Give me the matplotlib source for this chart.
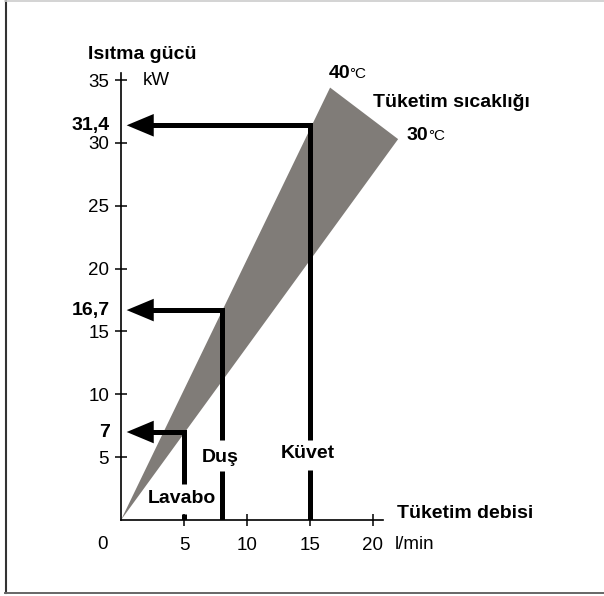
import matplotlib
matplotlib.use('Agg')
import matplotlib.pyplot as plt
from matplotlib.lines import Line2D

plt.rcParams['font.family'] = ['Liberation Sans', 'DejaVu Sans']

# Flow rates (l/min) and heating power (kW) for each tap point
points = ['Lavabo', 'Duş', 'Küvet']
flows = [5, 8, 15]
powers = [7, 16.7, 31.4]
power_labels = ['7', '16,7', '31,4']
# where the label sits on each vertical line (gap in the line)
label_y = [1.75, 5.0, 5.3]
gap_low = [0.5, 3.9, 4.0]
gap_high = [2.9, 6.4, 6.4]

# Consumption temperature band (40 °C upper edge, 30 °C lower edge)
band_flow = [0, 16.6, 22.0]
band_power = [0, 34.4, 30.3]

x_ticks = [5, 10, 15, 20]
y_ticks = [5, 10, 15, 20, 25, 30, 35]

fig = plt.figure(figsize=(6.04, 5.96), dpi=100)
ax = fig.add_axes([121 / 604, 76 / 596, 262 / 604, 447.5 / 596])
ax.set_xlim(0, 20.8)
ax.set_ylim(0, 35.6)

for s in ['top', 'right']:
    ax.spines[s].set_visible(False)
for s in ['left', 'bottom']:
    ax.spines[s].set_linewidth(1.2)

ax.set_xticks(x_ticks)
ax.set_yticks(y_ticks)
ax.tick_params(direction='inout', length=8, width=1.1, labelsize=13.5)
ax.tick_params(axis='x', pad=8)
ax.tick_params(axis='y', pad=4.5)

# temperature band
ax.fill(band_flow, band_power, color='#807c78', lw=0, clip_on=False, zorder=1)

# arrows for each tap point
lw = 3.6
for f, p, pl, g0, g1 in zip(flows, powers, power_labels, gap_low, gap_high):
    ax.plot([f, f], [0, g0], color='black', lw=lw, solid_capstyle='butt', zorder=3)
    ax.plot([f, f, 2.4], [g1, p, p], color='black', lw=lw,
            solid_joinstyle='miter', solid_capstyle='butt', zorder=3, clip_on=False)
    ax.fill([0.45, 2.6, 2.6], [p, p + 0.9, p - 0.9], color='black', lw=0, zorder=3)
    ax.text(-0.9, p, pl, ha='right', va='center', fontsize=14, fontweight='bold')

for f, name, ly in zip(flows, points, label_y):
    ax.text(f - 0.15, ly, name, ha='center', va='center', fontsize=14,
            fontweight='bold', zorder=4)

# axis titles and units
ax.text(-1.45, -1.95, '0', ha='center', va='center', fontsize=13.5)
ax.text(1.75, 35.0, 'kW', ha='left', va='center', fontsize=13.5)
ax.text(-2.6, 37.0, 'Isıtma gücü', ha='left', va='center', fontsize=14, fontweight='bold')
ax.text(21.7, -1.95, 'l/min', ha='left', va='center', fontsize=13.5)
ax.text(21.9, 0.55, 'Tüketim debisi', ha='left', va='center', fontsize=14, fontweight='bold')
ax.text(20.0, 33.2, 'Tüketim sıcaklığı', ha='left', va='center', fontsize=14, fontweight='bold')
ax.text(16.5, 35.55, '40', ha='left', va='center', fontsize=14, fontweight='bold')
ax.text(18.15, 35.5, '°C', ha='left', va='center', fontsize=11)
ax.text(22.7, 30.6, '30', ha='left', va='center', fontsize=14, fontweight='bold')
ax.text(24.35, 30.55, '°C', ha='left', va='center', fontsize=11)

# frame around the figure
fig.add_artist(Line2D([5.5 / 604, 5.5 / 604], [3 / 596, 1], color='#333333', lw=1.5))
fig.add_artist(Line2D([5 / 604, 1], [3.5 / 596, 3.5 / 596], color='#666666', lw=1.4))
fig.add_artist(Line2D([5 / 604, 1], [595.5 / 596, 595.5 / 596], color='#cccccc', lw=1.2))

fig.savefig('out.png', dpi=100)
